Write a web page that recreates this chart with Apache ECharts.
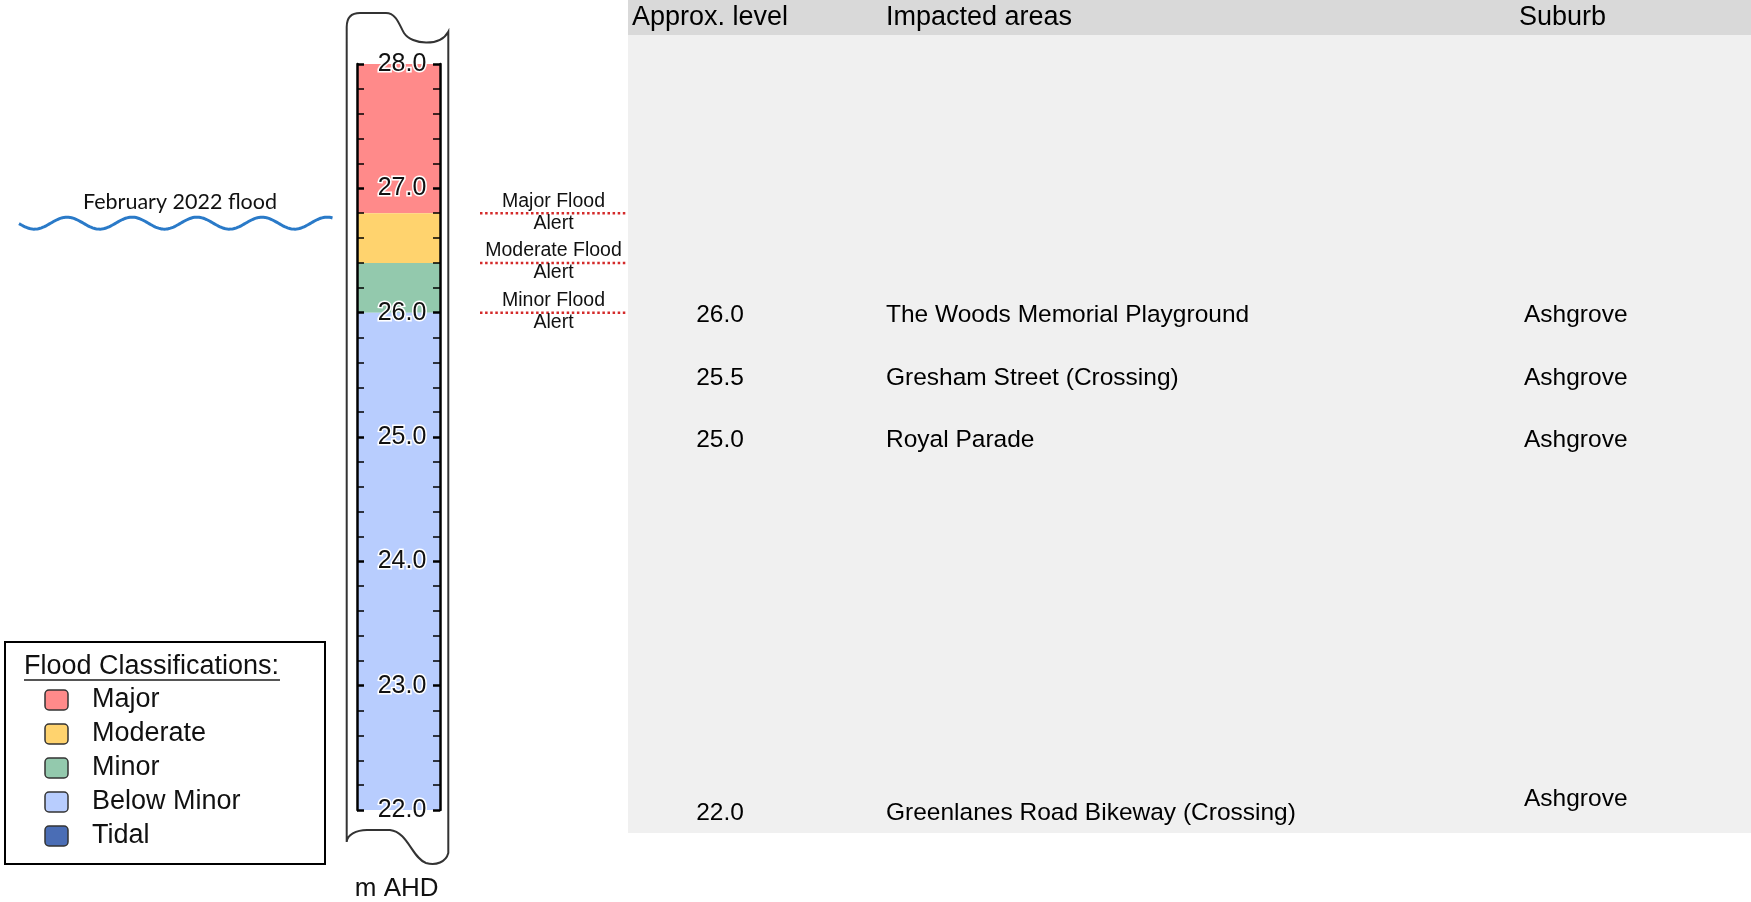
<!DOCTYPE html>
<html><head><meta charset="utf-8">
<script src="https://cdn.jsdelivr.net/npm/echarts@6/dist/echarts.min.js"></script>
<style>html,body{margin:0;padding:0;background:#fff}#c{width:1751px;height:902px}</style>
</head><body><div id="c"></div>
<script>
// ---------------- data ----------------
const gaugeMin = 22, gaugeMax = 28, gaugeStep = 1;
const classNames = ['Major', 'Moderate', 'Minor', 'Below Minor', 'Tidal'];
const classColors = ['#ff8a8a', '#ffd36e', '#93c9ad', '#b8cdfe', '#4a6db5'];
const classLow  = [26.8, 26.4, 26.0, 22.0, null];
const classHigh = [28.0, 26.8, 26.4, 26.0, null];
const alertNames = ['Major Flood\nAlert', 'Moderate Flood\nAlert', 'Minor Flood\nAlert'];
const alertLevels = [26.8, 26.4, 26.0];
const floodEventName = 'February 2022 flood';
const floodEventLevel = 26.72;
const tableHeaders = ['Approx. level', 'Impacted areas', 'Suburb'];
const rowLevels = [26.0, 25.5, 25.0, 22.0];
const rowAreas = ['The Woods Memorial Playground', 'Gresham Street (Crossing)', 'Royal Parade', 'Greenlanes Road Bikeway (Crossing)'];
const rowSuburbs = ['Ashgrove', 'Ashgrove', 'Ashgrove', 'Ashgrove'];
const unitLabel = 'm AHD';
const legendTitle = 'Flood Classifications:';

// ---------------- layout ----------------
const FONT = '"Liberation Sans", Arial, sans-serif';
const TOP = 64, HEIGHT = 746;
const TABLE_LEFT = 628, TABLE_W = 1123;
const colX = { level: (720 - TABLE_LEFT) / TABLE_W, area: (886 - TABLE_LEFT) / TABLE_W, suburb: (1524 - TABLE_LEFT) / TABLE_W };
const TUBE_PATH = 'M 346.7 842 L 346.7 27 Q 346.7 13 360 13 L 386 13 C 397 13 400 27 404 33 C 412 45 440 47 448.3 31.7 ' +
  'L 448.3 853 C 446 862 436 866 426 863 C 412 858 408 832 390 830 L 367 830 C 356 830 347 835 346.7 842 Z';

const chart = echarts.init(document.getElementById('c'), null, { renderer: 'canvas' });

const bandData = [];
classNames.forEach((n, i) => { if (classLow[i] != null) bandData.push([classLow[i], classHigh[i], i]); });

const hiddenX = (g) => ({ type: 'value', gridIndex: g, min: 0, max: 1, show: false });
const hiddenY = (g) => ({ type: 'value', gridIndex: g, min: gaugeMin, max: gaugeMax, show: false });

const gaugeAxisCommon = {
  type: 'value', gridIndex: 0, min: gaugeMin, max: gaugeMax, interval: gaugeStep, z: 10,
  splitLine: { show: false },
  axisLine: { show: true, lineStyle: { color: '#000', width: 2.5 } },
  axisTick: { show: true, inside: true, length: 7, lineStyle: { color: '#000', width: 2.5 } },
  minorTick: { show: true, splitNumber: 5, length: 7, lineStyle: { color: '#000', width: 1.5 } }
};

// text-at-value custom series helper: data items are [x, y, textIndex]
function textSeries(xi, yi, data, texts, styleFn) {
  return {
    type: 'custom', xAxisIndex: xi, yAxisIndex: yi, silent: true, z: 6,
    data,
    renderItem(params, api) {
      const p = api.coord([api.value(0), api.value(1)]);
      const k = api.value(2);
      const st = styleFn(k);
      return { type: 'text', x: p[0] + (st.dx || 0), y: p[1] + (st.dy || 0),
        style: { text: texts[k], font: st.font, fill: st.fill || '#000', align: st.align || 'left',
          verticalAlign: 'middle', lineHeight: st.lineHeight } };
    }
  };
}

const series = [];
// classification bands in the gauge
series.push({
  type: 'custom', xAxisIndex: 0, yAxisIndex: 0, silent: true, z: 1,
  data: bandData,
  renderItem(params, api) {
    const lo = api.value(0), hi = api.value(1), idx = api.value(2);
    const p1 = api.coord([0, hi]), p2 = api.coord([1, lo]);
    return { type: 'rect', shape: { x: p1[0], y: p1[1], width: p2[0] - p1[0], height: p2[1] - p1[1] },
      style: { fill: classColors[idx] } };
  }
});
// tube outline
series.push({
  type: 'custom', xAxisIndex: 0, yAxisIndex: 0, silent: true, z: 5,
  data: [[0, gaugeMax]],
  renderItem() {
    return { type: 'path', shape: { pathData: TUBE_PATH }, style: { stroke: '#333', lineWidth: 2, fill: null } };
  }
});
// alert lines
alertLevels.forEach((v) => {
  series.push({
    type: 'line', xAxisIndex: 1, yAxisIndex: 2, silent: true, symbol: 'none',
    data: [[0, v], [1, v]],
    lineStyle: { color: '#d42a2a', width: 2.5, type: [2.5, 2.6] }
  });
});
series.push(textSeries(1, 2, alertLevels.map((v, i) => [0.5, v, i]), alertNames,
  () => ({ font: '19.5px ' + FONT, fill: '#111', align: 'center', lineHeight: 22, dy: -1 })));
// flood event wave
series.push({
  type: 'custom', xAxisIndex: 2, yAxisIndex: 3, silent: true, z: 3,
  data: [[0.5, floodEventLevel]],
  renderItem(params, api) {
    const cs = params.coordSys;
    const yc = api.coord([0.5, api.value(1)])[1];
    const pts = [];
    for (let x = cs.x; x <= cs.x + cs.width; x += 1.5) {
      pts.push([x, yc - 6 * Math.cos(2 * Math.PI * (x - 67) / 65)]);
    }
    return { type: 'group', children: [
      { type: 'polyline', shape: { points: pts }, style: { stroke: '#2a7ac8', lineWidth: 3, fill: null } },
      { type: 'text', x: cs.x + cs.width / 2 + 4, y: yc - 21,
        style: { text: floodEventName, font: '21.5px Lato, ' + FONT, fill: '#111', align: 'center', verticalAlign: 'middle' } }
    ] };
  }
});
// table rows
const levelTexts = rowLevels.map(v => v.toFixed(1));
series.push(textSeries(3, 4, rowLevels.map((v, i) => [colX.level, v, i]), levelTexts,
  () => ({ font: '24.5px ' + FONT, align: 'center', dy: 3 })));
series.push(textSeries(3, 4, rowLevels.map((v, i) => [colX.area, v, i]), rowAreas,
  () => ({ font: '24.5px ' + FONT, dy: 3 })));
series.push(textSeries(3, 4, rowLevels.map((v, i) => [colX.suburb, v, i]), rowSuburbs,
  (k) => ({ font: '24.5px ' + FONT, dy: k === rowLevels.length - 1 ? -11 : 3 })));

// ---------------- graphics ----------------
const graphics = [];
graphics.push({ type: 'rect', z: -10, shape: { x: TABLE_LEFT, y: 0, width: TABLE_W, height: 833 }, style: { fill: '#f0f0f0' } });
graphics.push({ type: 'rect', z: -9, shape: { x: TABLE_LEFT, y: 0, width: TABLE_W, height: 35 }, style: { fill: '#d9d9d9' } });
const headerX = [632, 886, 1519];
tableHeaders.forEach((h, i) => graphics.push({ type: 'text', x: headerX[i], y: 18,
  style: { text: h, font: '27px ' + FONT, fill: '#000', verticalAlign: 'middle' } }));
graphics.push({ type: 'text', x: 396.7, y: 889, style: { text: unitLabel, font: '26px ' + FONT, fill: '#111', align: 'center', verticalAlign: 'middle' } });
// legend
graphics.push({ type: 'rect', shape: { x: 5, y: 642, width: 320, height: 222 }, style: { fill: '#fff', stroke: '#000', lineWidth: 2 } });
graphics.push({ type: 'text', x: 24, y: 667, style: { text: legendTitle, font: '27px ' + FONT, fill: '#111', verticalAlign: 'middle' } });
graphics.push({ type: 'line', shape: { x1: 24, y1: 680, x2: 280, y2: 680 }, style: { stroke: '#555', lineWidth: 2 } });
classNames.forEach((n, i) => {
  const cy = 700 + i * 34;
  graphics.push({ type: 'rect', shape: { x: 45, y: cy - 10, width: 23, height: 20, r: 4 },
    style: { fill: classColors[i], stroke: '#333', lineWidth: 1.5 } });
  graphics.push({ type: 'text', x: 92, y: cy, style: { text: n, font: '27px ' + FONT, fill: '#111', verticalAlign: 'middle' } });
});

chart.setOption({
  animation: false,
  backgroundColor: '#fff',
  grid: [
    { left: 357, top: TOP, width: 83, height: HEIGHT },
    { left: 480, top: TOP, width: 147, height: HEIGHT },
    { left: 19, top: TOP, width: 314, height: HEIGHT },
    { left: TABLE_LEFT, top: TOP, width: TABLE_W, height: HEIGHT }
  ],
  xAxis: [hiddenX(0), hiddenX(1), hiddenX(2), hiddenX(3)],
  yAxis: [
    Object.assign({}, gaugeAxisCommon, { position: 'left',
      axisLabel: { show: true, inside: true, align: 'center', margin: 45, fontFamily: FONT, fontSize: 25,
        color: '#111', textBorderColor: '#fff', textBorderWidth: 3, formatter: v => v.toFixed(1) } }),
    Object.assign({}, gaugeAxisCommon, { position: 'right', axisLabel: { show: false } }),
    hiddenY(1), hiddenY(2), hiddenY(3)
  ],
  graphic: { elements: graphics },
  series
});
</script>
</body></html>
